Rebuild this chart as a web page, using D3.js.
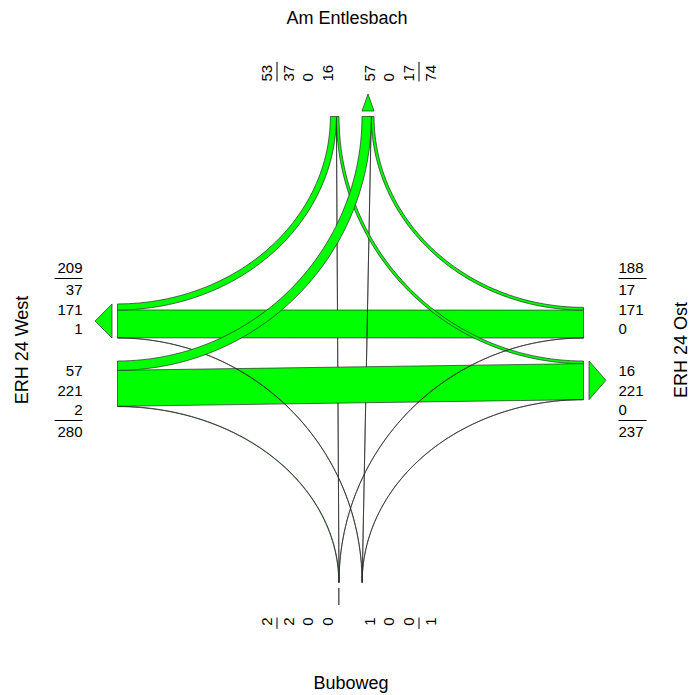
<!DOCTYPE html>
<html>
<head>
<meta charset="utf-8">
<script src="https://cdn.jsdelivr.net/npm/d3@7"></script>
<style>
  body { margin: 0; background: #fff; }
  text { font-family: "Liberation Sans", Arial, sans-serif; fill: #000; }
</style>
</head>
<body>
<div id="chart"></div>
<script>
// arms of the junction, clockwise from north
const armKeys = ["N", "E", "S", "W"];
const armNames = ["Am Entlesbach", "ERH 24 Ost", "Buboweg", "ERH 24 West"];

// turning movements: origin arm, destination arm, vehicles
const flowFrom  = ["N", "N", "N", "E", "E", "E", "S", "S", "S", "W", "W", "W"];
const flowTo    = ["E", "S", "W", "S", "W", "N", "W", "N", "E", "N", "E", "S"];
const flowCount = [16, 0, 37, 0, 171, 17, 1, 0, 0, 57, 221, 2];

const width = 691, height = 695;
const cx = 350.5, cy = 349.5;
const R = 233, gap = 11.5;           // arm length, half gap between the two lanes
const arrowGap = 5.5, arrowLen = 17;
const labelDist = 268;
const rowPos = [21, 40.5, 60], sepPos = 71, totalPos = 82;

// vehicles -> band width in px
const w = d3.scaleLinear().domain([0, 100]).range([0, 16.3]);

const unit = {N: [0, -1], E: [1, 0], S: [0, 1], W: [-1, 0]};
const lat = k => [unit[k][1], -unit[k][0]];   // side of the incoming lane

function P(k, along, side) {
    let u = unit[k], v = lat(k);
    return [cx + along * u[0] + side * v[0], cy + along * u[1] + side * v[1]];
}

// 0 = left turn, 1 = straight, 2 = right turn
function turnRank(a, b) {
    let h = unit[a].map(d => -d), u = unit[b];
    let cr = h[0] * u[1] - h[1] * u[0];
    return cr < 0 ? 0 : (cr > 0 ? 2 : 1);
}

let flows = flowCount.map((n, i) => ({from: flowFrom[i], to: flowTo[i], n: n, rank: turnRank(flowFrom[i], flowTo[i])}));

// stack each lane from the centre line outwards: left turners, straight, right turners
armKeys.forEach(k => {
    let acc = 0;
    flows.filter(f => f.from === k).sort((p, q) => p.rank - q.rank).forEach(f => {
        f.a0 = acc; acc += w(f.n); f.a1 = acc;
    });
    acc = 0;
    flows.filter(f => f.to === k).sort((p, q) => p.rank - q.rank).forEach(f => {
        f.b0 = acc; acc += w(f.n); f.b1 = acc;
    });
});

const line = d3.line();
const thetas = d3.range(0, 61).map(i => i / 60 * Math.PI / 2);

function flowPath(f) {
    let A = f.from, B = f.to;
    if (f.rank === 1) {
        return line([P(A, R, gap + f.a0), P(A, R, gap + f.a1), P(B, R, -(gap + f.b1)), P(B, R, -(gap + f.b0))]) + "Z";
    }
    // turning flows: quarter ellipses around the outer corner
    let uA = unit[A], uB = unit[B];
    let C = [cx + R * (uA[0] + uB[0]), cy + R * (uA[1] + uB[1])];
    let vin = lat(A), vout = lat(B).map(d => -d);
    let dA = vin[0] * uB[0] + vin[1] * uB[1];
    let dB = vout[0] * uA[0] + vout[1] * uA[1];
    let edge = (a, b) => {
        let r1 = R - (gap + a) * dA, r2 = R - (gap + b) * dB;
        return thetas.map(t => [C[0] - Math.cos(t) * r1 * uB[0] - Math.sin(t) * r2 * uA[0],
                                C[1] - Math.cos(t) * r1 * uB[1] - Math.sin(t) * r2 * uA[1]]);
    };
    return line(edge(f.a0, f.b0).concat(edge(f.a1, f.b1).reverse())) + "Z";
}

const svg = d3.select("#chart").append("svg")
    .attr("width", width)
    .attr("height", height);

const fillCol = "#00ff00", strokeCol = "#2a2a2a";

// straight movements first, turning movements on top
svg.selectAll(".flow")
    .data(flows.slice().sort((p, q) => (p.rank === 1 ? 0 : 1) - (q.rank === 1 ? 0 : 1)))
    .enter()
    .append("path")
    .attr("class", "flow")
    .attr("d", flowPath)
    .attr("fill", fillCol)
    .attr("stroke", strokeCol)
    .attr("stroke-width", 0.7)
    .attr("stroke-linejoin", "round");

// outgoing arrows
armKeys.forEach(k => {
    let tot = d3.sum(flows.filter(f => f.to === k), f => f.n);
    let wd = w(tot);
    let pts = [P(k, R + arrowGap, -gap), P(k, R + arrowGap, -(gap + wd)), P(k, R + arrowGap + arrowLen, -(gap + wd / 2))];
    svg.append("path")
        .attr("d", line(pts) + "Z")
        .attr("fill", fillCol)
        .attr("stroke", strokeCol)
        .attr("stroke-width", 0.7);
});

// counts beside each arm
const labels = svg.append("g").style("font-size", "15px");

function addText(k, side, txt) {
    let vertical = (k === "N" || k === "S");
    let p = P(k, labelDist, side);
    if (vertical) p[0] -= 2.5;
    let anchor = {W: "end", E: "start", N: "start", S: "end"}[k];
    let t = labels.append("text")
        .attr("text-anchor", anchor)
        .attr("dominant-baseline", "central")
        .text(txt);
    if (vertical) t.attr("transform", `translate(${p[0]},${p[1]}) rotate(-90)`);
    else t.attr("x", p[0]).attr("y", p[1]);
    return t;
}

armKeys.forEach(k => {
    [1, -1].forEach(sgn => {
        let group = flows.filter(f => sgn > 0 ? f.from === k : f.to === k).sort((p, q) => p.rank - q.rank);
        let texts = group.map((f, i) => addText(k, sgn * rowPos[i], f.n));
        texts.push(addText(k, sgn * totalPos, d3.sum(group, f => f.n)));
        let len = d3.max(texts, t => t.node().getComputedTextLength()) + 3;
        let p0 = P(k, labelDist, sgn * sepPos), p1 = P(k, labelDist + len, sgn * sepPos);
        if (k === "N" || k === "S") { p0[0] -= 2.5; p1[0] -= 2.5; }
        svg.append("line")
            .attr("x1", p0[0]).attr("y1", p0[1])
            .attr("x2", p1[0]).attr("y2", p1[1])
            .attr("stroke", "#000")
            .attr("stroke-width", 1);
    });
});

// arm names
const titles = svg.append("g").style("font-size", "18px");
titles.append("text").attr("x", 347).attr("y", 18).attr("text-anchor", "middle")
    .attr("dominant-baseline", "central").text(armNames[0]);
titles.append("text").attr("x", 351).attr("y", 683).attr("text-anchor", "middle")
    .attr("dominant-baseline", "central").text(armNames[2]);
titles.append("text").attr("transform", "translate(22,350) rotate(-90)").attr("text-anchor", "middle")
    .attr("dominant-baseline", "central").text(armNames[3]);
titles.append("text").attr("transform", "translate(681,350) rotate(-90)").attr("text-anchor", "middle")
    .attr("dominant-baseline", "central").text(armNames[1]);
</script>
</body>
</html>
